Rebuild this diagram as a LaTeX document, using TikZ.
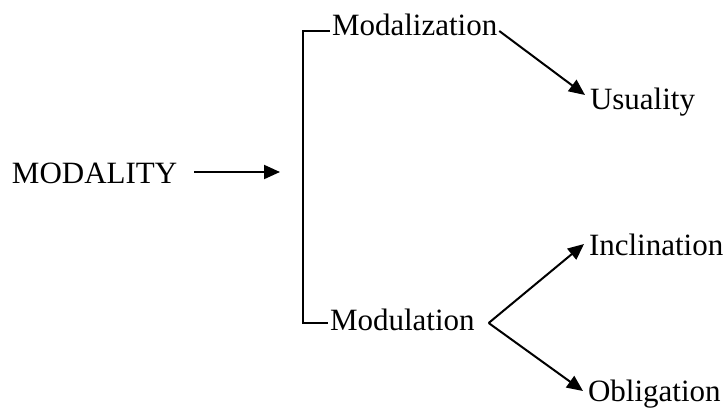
\documentclass[tikz,border=0pt]{standalone}
\usepackage{fontspec}
\setmainfont{Liberation Serif}
\usetikzlibrary{arrows.meta,calc}
\begin{document}
\begin{tikzpicture}[x=1pt,y=-1pt,
  lbl/.style={inner sep=0pt,outer sep=0pt,anchor=base west,font=\fontsize{31}{36}\selectfont},
  ln/.style={line width=2pt},
  arr/.style={ln,-{Triangle[length=16pt,width=14pt]}}]
  \useasboundingbox (0,0) rectangle (728,410);

  % labels
  \node[lbl] (modality) at (12,183) {MODALITY};
  \node[lbl] (mz) at (332,35) {Modalization};
  \node[lbl] (mu) at (330,330) {Modulation};
  \node[lbl] (us) at (590,109) {Usuality};
  \node[lbl] (inc) at (589,255) {Inclination};
  \node[lbl] (obl) at (588,401) {Obligation};

  % main arrow and bracket
  \coordinate (arrend) at (280,172);
  \coordinate (arrstart) at (194,172);
  \coordinate (bt) at (302.7,31);
  \coordinate (bb) at (302.7,322.7);
  \draw[arr] (arrstart) -- (arrend);
  \draw[ln] ([xshift=-2pt]mz.west |- bt) -- (bt) -- (bb) -- ([xshift=-2pt]mu.west |- bb);

  % branches
  \draw[arr] ([shift={(2,-4)}]mz.base east) -- ([shift={(-5,-14)}]us.base west);
  \coordinate (v) at ([shift={(14,-7)}]mu.base east);
  \draw[arr] (v) -- ([shift={(-5,-11)}]inc.base west);
  \draw[arr] (v) -- ([shift={(-5,-10)}]obl.base west);
\end{tikzpicture}
\end{document}
